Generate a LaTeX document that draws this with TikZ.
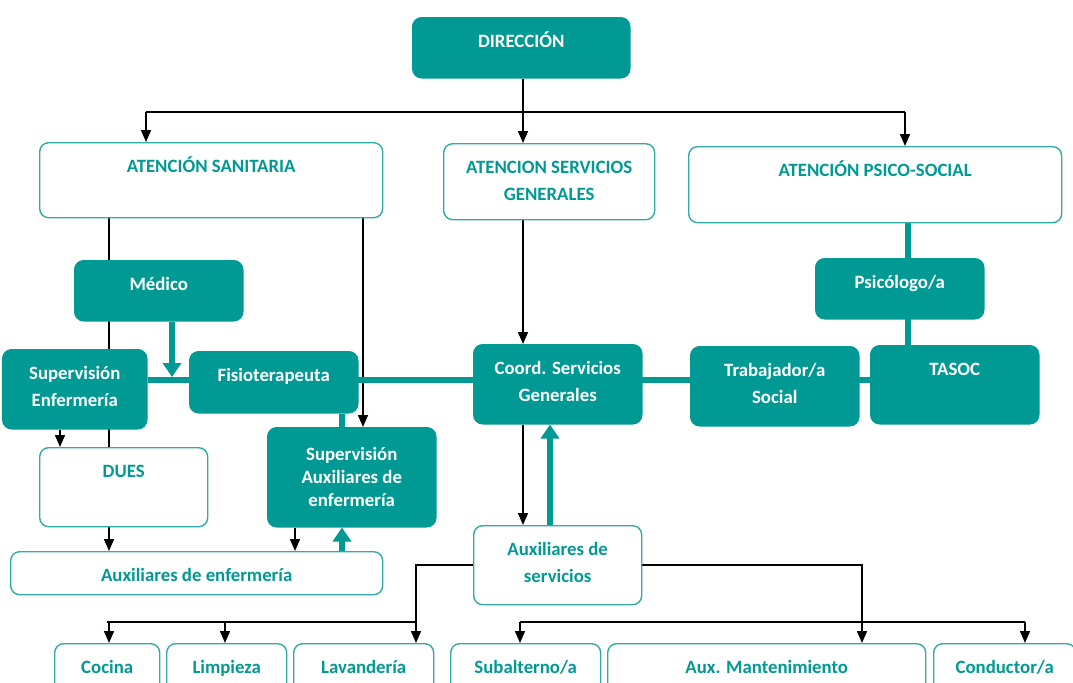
\documentclass[tikz,border=0pt]{standalone}
\usepackage{fontspec}
\setmainfont{Carlito}
\usetikzlibrary{arrows.meta, backgrounds}

\definecolor{orgteal}{RGB}{0,153,148}
\definecolor{orgline}{RGB}{52,170,166}

\tikzset{
  wh/.code n args={3}{% box size in px, extra lines in pt
    \pgfmathsetmacro\boxw{#1*0.5}\pgfmathsetmacro\boxh{#2*0.5}%
    \pgfmathsetmacro\boxt{11+#3}\pgfmathsetmacro\boxd{#2*0.5-19-#3}%
    \edef\boxset{\noexpand\pgfkeysalso{minimum width=\boxw pt,
      minimum height=\boxh pt, text height=\boxt pt, text depth=\boxd pt}}\boxset}
}

\begin{document}
\begin{tikzpicture}[
                x = 0.5pt, y = -0.5pt, % one unit = one px of the chart
                > = {Triangle[width=5pt, length=6pt]}, % black arrow head
                line width = 0.75pt
            ]

            \tikzstyle{every node}=[rectangle, rounded corners = 4.5pt,
            anchor = north west, align = center, inner ysep = 4pt,
            font = \fontsize{9.4}{13.5}\selectfont\bfseries]
            \tikzstyle{fullbox}=[fill = orgteal, draw = orgteal, text = white]
            \tikzstyle{openbox}=[fill = white, draw = orgline, line width = 0.7pt,
            text = orgteal]
            \tikzstyle{link}=[black, line width = 0.75pt]
            \tikzstyle{bar}=[orgteal, line width = 3pt]
            \tikzstyle{barhead}=[-{Triangle[width=9pt, length=7pt]}]

            \useasboundingbox (0,0) rectangle (1073,682);

            % top levels
            \node (dir) [fullbox, wh={217}{60}{0}] at (412,17) {DIRECCIÓN};
            \node (san) [openbox, wh={343}{75}{0}] at (39,142) {ATENCIÓN SANITARIA};
            \node (asg) [openbox, wh={211}{76}{13.5}] at (443,143)
            {ATENCION SERVICIOS\\GENERALES};
            \node (aps) [openbox, wh={373}{76}{0}] at (688,146)
            {ATENCIÓN PSICO-SOCIAL};

            % staff
            \node (med) [fullbox, wh={168}{60}{0}] at (74,260) {Médico};
            \node (psi) [fullbox, wh={168}{60}{0}] at (815,258) {Psicólogo/a};
            \node (supenf) [fullbox, wh={144}{79}{13.5}] at (2,349)
            {Supervisión\\Enfermería};
            \node (fis) [fullbox, wh={168}{61}{0}] at (189,351) {Fisioterapeuta};
            \node (coord) [fullbox, wh={168}{79}{13.5}] at (473,344)
            {Coord. Servicios\\Generales};
            \node (trab) [fullbox, wh={168}{79}{13.5}] at (690,346)
            {Trabajador/a\\Social};
            \node (tasoc) [fullbox, wh={168}{78}{0}] at (870,345) {TASOC};
            \node (dues) [openbox, wh={168}{79}{0}] at (39,447) {DUES};
            \node (supaux) [fullbox, wh={168}{99}{24.5},
            font = \fontsize{9.4}{11.5}\selectfont\bfseries] at (267,427)
            {Supervisión\\Auxiliares de\\enfermería};
            \node (auxenf) [openbox, wh={372}{43}{0}] at (10,551)
            {Auxiliares de enfermería};
            \node (auxserv) [openbox, wh={168}{79}{13.5}] at (473,525)
            {Auxiliares de\\servicios};

            % services
            \node (coc) [openbox, wh={105}{60}{0}] at (54,643) {Cocina};
            \node (lim) [openbox, wh={120}{60}{0}] at (166,643) {Limpieza};
            \node (lav) [openbox, wh={140}{60}{0}] at (293,643) {Lavandería};
            \node (sub) [openbox, wh={150}{60}{0}] at (450,643) {Subalterno/a};
            \node (mant) [openbox, wh={318}{60}{0}] at (607,643)
            {Aux. Mantenimiento};
            \node (cond) [openbox, wh={142}{60}{0}] at (933,643) {Conductor/a};

            \coordinate (busA) at (146,112); \coordinate (busB) at (905,112);
            \coordinate (medtip) at (172,377);
            \coordinate (busL) at (416,622); \coordinate (busR) at (862,622);

            \begin{scope}[on background layer]
            \path[link, ->] (dir.south -| 523,0) edge (asg.north -| 523,0);
            \path[link] (busA) edge (busB);
            \path[link, ->] (busA) edge (busA |- san.north);
            \path[link, ->] (busB) edge (busB |- aps.north);

            \path[link, ->] (san.south -| 109,0) edge (auxenf.north -| 109,0);
            \path[link, ->] (san.south -| 363,0) edge (supaux.north -| 363,0);
            \path[link, ->] (supenf.south -| 60,0) edge (dues.north -| 60,0);
            \path[link, ->] (supaux.south -| 295,0) edge (auxenf.north -| 295,0);
            \path[link, ->] (asg.south -| 523,0) edge (coord.north -| 523,0);
            \path[link, ->] (coord.south -| 523,0) edge (auxserv.north -| 523,0);

            \path[bar] (supenf.east |- 0,380) edge (tasoc.west |- 0,380);
            \path[bar] (fis.south -| 342,0) edge (supaux.north -| 342,0);
            \path[bar] (aps.south -| 908,0) edge (tasoc.north -| 908,0);
            \path[bar, barhead] (med.south -| medtip) edge (medtip);
            \path[bar, barhead] (auxenf.north -| 342,0) edge (supaux.south -| 342,0);
            \path[bar, barhead] (auxserv.north -| 550,0) edge (coord.south -| 550,0);

            \draw[link] (auxserv.west) -| (busL);
            \draw[link] (auxserv.east) -| (busR);
            \draw[link] (busL) -- (busL -| coc.north);
            \draw[link] (busR) -- (busR -| 1025,0) -- (busR -| 520,0);
            \foreach \n/\x in {coc/109, lim/225, lav/416, sub/520, mant/862,
            cond/1025}
                \draw[link, ->] (\x,622) -- (\n.north -| \x,0);
            \end{scope}

        \end{tikzpicture}
\end{document}
